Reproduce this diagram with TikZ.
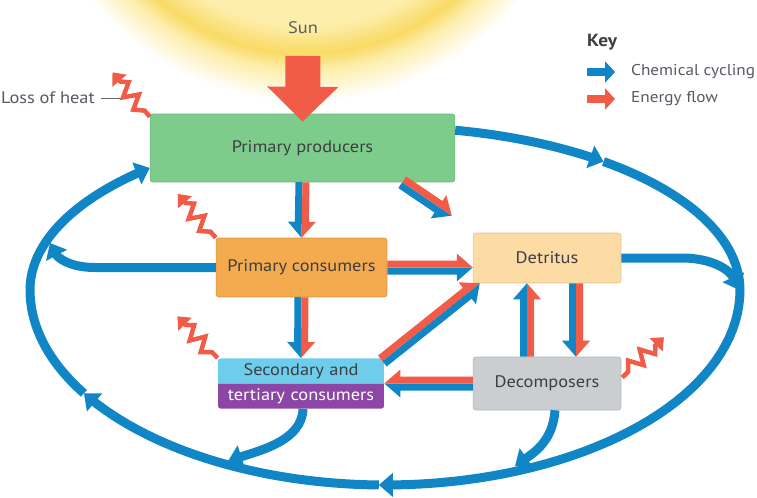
\documentclass[tikz,border=0pt]{standalone}
\usepackage{fontspec}
\setmainfont{PT Sans}[FakeStretch=1.1]
\usetikzlibrary{arrows.meta, positioning, calc, shapes.multipart}

\definecolor{cycblue}{RGB}{16,134,198}
\definecolor{flowred}{RGB}{240,92,72}
\definecolor{prodgreen}{RGB}{126,204,140}
\definecolor{consorange}{RGB}{244,170,78}
\definecolor{detpeach}{RGB}{252,219,165}
\definecolor{secblue}{RGB}{110,205,235}
\definecolor{terpurple}{RGB}{140,70,165}
\definecolor{decgray}{RGB}{202,206,209}
\definecolor{txt}{RGB}{62,62,66}
\definecolor{keytxt}{RGB}{88,88,100}
\definecolor{sunpale}{RGB}{253,238,172}
\definecolor{sunring}{RGB}{249,218,100}

\pgfdeclareradialshading{sunglow}{\pgfpoint{0bp}{0bp}}{color(0bp)=(sunpale); color(18bp)=(sunpale); color(20.5bp)=(sunring); color(22bp)=(sunpale); color(24.8bp)=(white); color(50bp)=(white)}

% paired arrow: chemical half (blue) on side #3, energy half (red) on the other
\newcommand{\duo}[3]{%
  \coordinate (duo-c) at ($(#2)!0.32cm!(#1)$);
  \fill[cycblue] (#1) -- ($(#1)!0.14cm!#3:(#2)$) -- ($(duo-c)!0.14cm!#3:(#2)$)
    -- ($(duo-c)!0.28cm!#3:(#2)$) -- (#2) -- cycle;
  \fill[flowred] (#1) -- ($(#1)!-0.14cm!#3:(#2)$) -- ($(duo-c)!-0.14cm!#3:(#2)$)
    -- ($(duo-c)!-0.28cm!#3:(#2)$) -- (#2) -- cycle;
}

\begin{document}
\begin{tikzpicture}[x=0.02cm, y=-0.02cm,
    every node/.style={font=\fontsize{9.5pt}{11pt}\selectfont, text=txt},
    box/.style={rectangle, rounded corners=1.5pt, draw=#1!88!black, fill=#1, line width=0.3pt},
    keylabel/.style={anchor=west, text=keytxt, font=\fontsize{8.9pt}{10pt}\selectfont},
    cyc/.style={cycblue, line width=0.18cm, -{Triangle[length=0.28cm, width=0.46cm]}},
    ring/.style={cycblue, line width=0.18cm},
    heatline/.style={flowred, line width=0.09cm, -{Triangle[length=0.22cm, width=0.36cm]}},
    keyarrow/.style={line width=0.16cm, -{Triangle[length=0.2cm, width=0.42cm]}},
    heat/.pic={\draw[heatline] (0,0) -- (0,-8) -- (-8,-16) -- (6,-24) -- (-8,-32) -- (6,-40) -- (0,-46) -- (0,-58);}
  ]
    \useasboundingbox (0,0) rectangle (757,497);

    % Sun
    \shade[shading=sunglow] (305,-176) circle [radius=5.6cm];
    \node[text=txt!85] (sun) at (303,28) {Sun};

    % Boxes
    \node[box=prodgreen, minimum width=6.1cm, minimum height=1.36cm] (pp) at (302.5,148) {Primary producers};
    \node[box=consorange, minimum width=3.42cm, minimum height=1.18cm] (pc) at (301.5,267.5) {Primary consumers};
    \node[box=detpeach, minimum width=2.96cm, minimum height=1.0cm] (det) at (547,258) {Detritus};
    \node[box=decgray, minimum width=2.96cm, minimum height=1.06cm] (dec) at (547,383.5) {Decomposers};
    \node[rectangle split, rectangle split parts=2, rectangle split part fill={secblue,terpurple},
          rounded corners=1.5pt, text width=3.1cm, align=center, inner xsep=0.11cm, inner ysep=2.6pt]
          (sec) at (301,383.5) {Secondary and \nodepart{two}\textcolor{white}{tertiary consumers}};

    % Sunlight into producers
    \coordinate (raytop) at (303,56);
    \coordinate (rayfoot) at ($(pp.north)+(0,8)$);
    \draw[flowred, line width=0.7cm, -{Triangle[length=0.7cm, width=1.38cm]}] (raytop) -- (rayfoot);

    % Outer loop of chemical cycling
    \draw[cyc] plot[domain=-78.6:-52, samples=25] ({385+355*cos(\x)}, {290+163*sin(\x)});
    \draw[ring] plot[domain=-52:0, samples=30] ({385+355*cos(\x)}, {290+163*sin(\x)});
    \draw[cyc] plot[domain=0:91, samples=40] ({385+355*cos(\x)}, {290+195*sin(\x)});
    \draw[cyc] plot[domain=91:148, samples=30] ({385+355*cos(\x)}, {290+195*sin(\x)});
    \draw[ring] plot[domain=148:180, samples=20] ({385+355*cos(\x)}, {290+195*sin(\x)});
    \draw[cyc] plot[domain=180:228.5, samples=30] ({385+355*cos(\x)}, {290+163*sin(\x)});

    % Returns to the loop
    \draw[cyc] (det.east) -- (682,258) .. controls (712,258) and (730,270) .. (739,290);
    \draw[cyc] (pc.west) -- (95,267.5) .. controls (70,267.5) and (58,258) .. (50,243);
    \coordinate (secout) at ($(sec.south)+(2,0)$);
    \draw[cyc] (secout) .. controls (302,440) and (262,450) .. (228,461);
    \coordinate (decout) at ($(dec.south)+(8,0)$);
    \draw[cyc] (decout) .. controls (553,440) and (535,452) .. (515,466);

    % Paired arrows
    \coordinate (pd1) at ($(pp.south east)+(-53,0)$);
    \coordinate (pd2) at ($(det.north west)+(-21,-17)$);
    \coordinate (cd) at (pc.east -| det.west);
    \coordinate (sd1) at ($(sec.north east)+(-2,3)$);
    \coordinate (sd2) at ($(det.south west)+(7,0)$);
    \coordinate (ds) at (dec.west -| sec.east);
    \coordinate (up1) at ($(dec.north)+(-20,0)$);
    \coordinate (up2) at ($(det.south)+(-20,0)$);
    \coordinate (dn1) at ($(det.south)+(29,0)$);
    \coordinate (dn2) at ($(dec.north)+(29,0)$);
    \duo{pp.south}{pc.north}{-90}
    \duo{pd1}{pd2}{-90}
    \duo{pc.east}{cd}{-90}
    \duo{pc.south}{sec.north}{-90}
    \duo{sd1}{sd2}{-90}
    \duo{dec.west}{ds}{90}
    \duo{up1}{up2}{90}
    \duo{dn1}{dn2}{-90}

    % Heat losses
    \node[anchor=east, text=keytxt] (loss) at (101,98) {Loss of heat};
    \coordinate (lossend) at (127,98);
    \draw[gray!80!black, line width=0.5pt] (loss.east) -- (lossend);
    \pic[rotate=40] at ($(pp.north west)+(0,3)$) {heat};
    \pic[rotate=41] at (pc.north west) {heat};
    \pic[rotate=44] at (sec.north west) {heat};
    \pic[rotate=-46] at ($(dec.east)+(1,-6)$) {heat};

    % Key
    \node[font=\fontsize{10pt}{11pt}\selectfont\bfseries, anchor=west] (key) at (581,42) {Key};
    \node[keylabel] (kchem) at (625,72) {Chemical cycling};
    \node[keylabel] (kflow) at (625,99) {Energy flow};
    \draw[keyarrow, cycblue] ($(kchem.west)+(-38,0)$) -- ($(kchem.west)+(-10,0)$);
    \draw[keyarrow, flowred] ($(kflow.west)+(-38,0)$) -- ($(kflow.west)+(-10,0)$);
\end{tikzpicture}
\end{document}
